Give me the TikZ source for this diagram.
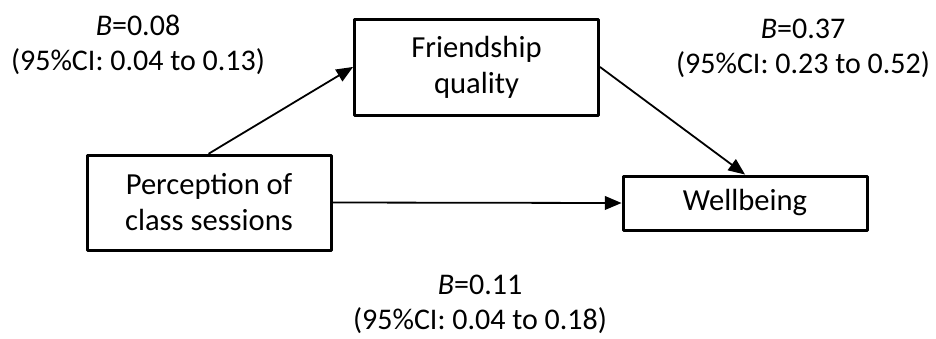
\documentclass[tikz,border=0pt]{standalone}
\usepackage{fontspec}
\setmainfont{Carlito}
\usetikzlibrary{arrows,positioning}

\begin{document}
\begin{tikzpicture}[line cap=round,line join=round,>=triangle 45,x=0.5pt,y=-0.5pt,
		box/.style={draw=black,line width=1.5pt,rectangle,inner sep=0pt,align=center,
			minimum width=122pt,font=\fontsize{15.3}{18}\selectfont},
		lbl/.style={align=center,inner sep=0pt,font=\fontsize{15}{17.5}\selectfont},
		link/.style={->,line width=0.9pt}]
		\useasboundingbox (0,0) rectangle (936,338);

		% Kaesten
		\node[box,minimum height=48pt] (friend) at (476.5,67) {Friendship\\quality};
		\node[box,minimum height=47.5pt] (percep) at (209,202.5) {Perception of\\class sessions};
		\node[box,minimum height=27pt] (well) at (745,203) {Wellbeing};

		% Pfeile
		\draw[link] (percep.north) -- (friend.west);
		\draw[link] (friend.east) -- (well.north);
		\draw[link] (percep.east) -- (well.west);

		% Koeffizienten
		\node[lbl] (coefa) at (138,45) {\textit{B}=0.08\\(95\%CI: 0.04 to 0.13)};
		\node[lbl] (coefb) at (803,48) {\textit{B}=0.37\\(95\%CI: 0.23 to 0.52)};
		\node[lbl] (coefc) at (480,304) {\textit{B}=0.11\\(95\%CI: 0.04 to 0.18)};
	\end{tikzpicture}
\end{document}
